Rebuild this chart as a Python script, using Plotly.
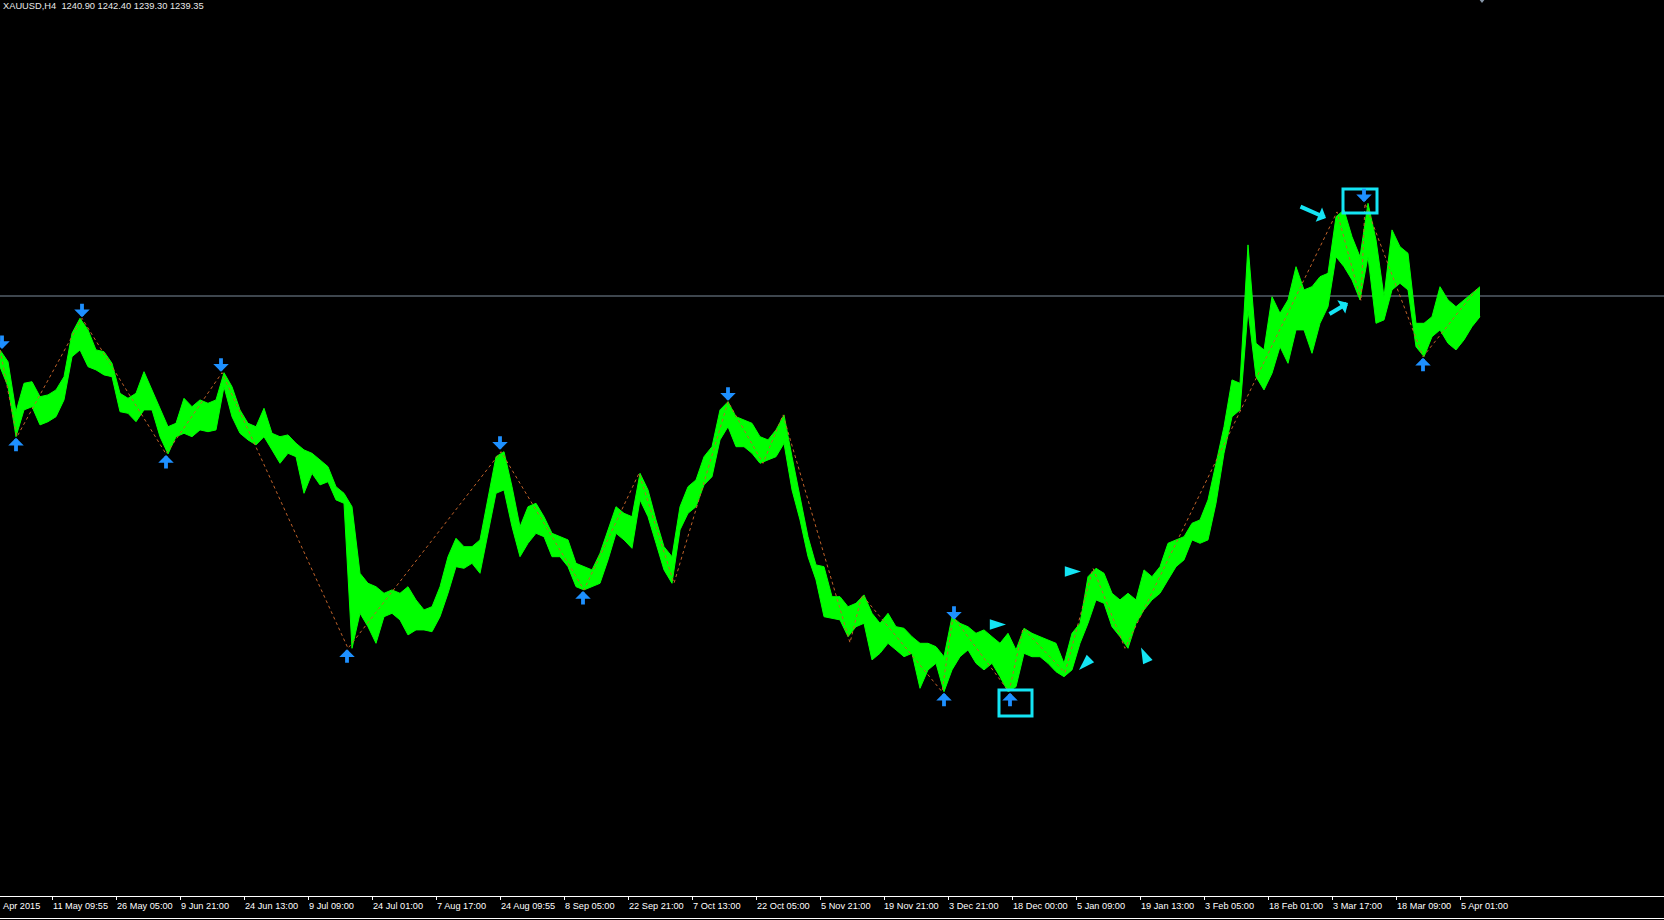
import plotly.graph_objects as go

# ---------------- data ----------------
SYMBOL_HEADER = "XAUUSD,H4  1240.90 1242.40 1239.30 1239.35"
BID_PRICE = 1239.35
BARS_PER_SAMPLE = 8  # each sample summarises 8 H4 bars

high_prices = [
    1212.4, 1206.5, 1181.5, 1195.7, 1196.5, 1189.0, 1189.9, 1192.4, 1199.0, 1220.7,
    1228.2, 1222.4, 1212.4, 1211.5, 1205.7, 1190.7, 1188.2, 1190.7, 1201.5, 1192.4,
    1182.4, 1174.0, 1175.7, 1188.2, 1184.0, 1187.4, 1185.7, 1187.4, 1201.0, 1194.0,
    1182.4, 1175.7, 1174.0, 1183.2, 1170.7, 1169.0, 1169.9, 1165.7, 1162.4, 1160.7,
    1157.4, 1154.0, 1144.0, 1140.7, 1134.0, 1100.7, 1095.7, 1094.0, 1090.7, 1092.4,
    1090.7, 1094.0, 1087.4, 1082.4, 1084.0, 1094.0, 1109.0, 1118.2, 1114.0, 1114.0,
    1117.4, 1137.4, 1159.0, 1161.5, 1144.0, 1124.0, 1134.0, 1135.7, 1129.0, 1120.7,
    1119.0, 1117.4, 1105.7, 1104.0, 1102.4, 1110.7, 1122.4, 1134.0, 1130.7, 1129.0,
    1150.7, 1142.4, 1127.4, 1114.0, 1109.0, 1134.0, 1144.0, 1147.4, 1159.0, 1164.0,
    1182.4, 1186.5, 1179.0, 1177.4, 1175.7, 1169.0, 1167.4, 1172.4, 1179.9, 1159.0,
    1139.0, 1119.0, 1104.9, 1104.0, 1089.0, 1089.0, 1084.0, 1085.7, 1089.9, 1080.7,
    1075.7, 1080.7, 1074.0, 1073.2, 1069.0, 1065.7, 1065.7, 1064.0, 1059.0, 1079.0,
    1075.7, 1074.0, 1070.7, 1072.4, 1069.0, 1065.7, 1070.7, 1062.4, 1073.2, 1070.7,
    1069.0, 1067.4, 1065.7, 1055.7, 1070.7, 1075.7, 1099.0, 1103.2, 1100.7, 1090.7,
    1087.4, 1090.7, 1087.4, 1102.4, 1099.0, 1104.0, 1115.7, 1117.4, 1119.0, 1125.7,
    1127.4, 1137.4, 1155.7, 1174.0, 1197.4, 1195.7, 1264.9, 1215.7, 1212.4, 1239.0,
    1230.7, 1237.4, 1254.0, 1242.4, 1244.0, 1249.0, 1250.7, 1279.0, 1282.4, 1269.0,
    1259.0, 1285.7, 1267.4, 1239.0, 1272.4, 1264.0, 1260.7, 1225.7, 1225.7, 1229.0,
    1244.0, 1237.4, 1234.0, 1237.4, 1240.7, 1244.0,
]
low_prices = [
    1204.0, 1194.0, 1169.0, 1182.4, 1184.0, 1174.9, 1176.5, 1179.0, 1187.4, 1209.0,
    1212.4, 1204.0, 1202.4, 1199.9, 1199.0, 1181.5, 1180.7, 1176.5, 1182.4, 1182.4,
    1169.0, 1160.4, 1169.0, 1170.7, 1169.0, 1172.4, 1171.5, 1172.4, 1194.0, 1179.0,
    1170.7, 1167.4, 1164.9, 1169.0, 1162.4, 1155.7, 1160.7, 1159.0, 1140.7, 1150.7,
    1144.9, 1146.5, 1137.4, 1135.7, 1063.2, 1080.7, 1074.0, 1065.7, 1079.0, 1080.7,
    1077.4, 1069.9, 1072.4, 1072.4, 1071.5, 1079.0, 1090.7, 1104.0, 1103.2, 1105.7,
    1100.7, 1120.7, 1140.7, 1142.4, 1124.0, 1109.0, 1115.7, 1120.7, 1119.0, 1109.0,
    1109.0, 1104.0, 1094.0, 1092.4, 1094.0, 1095.7, 1107.4, 1120.7, 1117.4, 1113.2,
    1137.4, 1129.0, 1115.7, 1102.4, 1095.7, 1122.4, 1130.7, 1134.0, 1144.9, 1149.0,
    1167.4, 1174.0, 1164.0, 1164.0, 1160.7, 1155.7, 1157.4, 1159.0, 1165.7, 1142.4,
    1127.4, 1109.0, 1097.4, 1079.0, 1078.2, 1077.4, 1069.0, 1074.0, 1075.7, 1057.4,
    1060.7, 1065.7, 1062.4, 1059.0, 1060.7, 1043.2, 1052.4, 1055.7, 1041.5, 1052.4,
    1059.0, 1062.4, 1055.7, 1052.4, 1055.7, 1049.0, 1041.5, 1044.0, 1060.7, 1059.0,
    1059.0, 1055.7, 1051.5, 1049.0, 1052.4, 1065.7, 1075.7, 1087.4, 1085.7, 1074.0,
    1069.0, 1063.2, 1075.7, 1082.4, 1087.4, 1090.7, 1097.4, 1104.0, 1107.4, 1117.4,
    1115.7, 1117.4, 1135.7, 1160.7, 1179.0, 1182.4, 1232.4, 1199.0, 1192.4, 1200.7,
    1214.0, 1205.7, 1222.4, 1222.4, 1210.7, 1225.7, 1234.0, 1259.0, 1254.0, 1247.4,
    1237.4, 1259.0, 1225.7, 1227.4, 1242.4, 1245.7, 1242.4, 1214.0, 1209.0, 1219.0,
    1222.4, 1215.7, 1212.4, 1217.4, 1224.0, 1229.0,
]

# ZigZag swing points (bar index, price)
zigzag_bars = [0, 17, 82, 166, 222, 348, 501, 584, 639, 674, 728, 763, 783, 850,
               862, 942, 953, 1009, 1023, 1065, 1093, 1125, 1337, 1361, 1365, 1423, 1477]
zigzag_prices = [1212.4, 1169.0, 1228.2, 1160.4, 1201.0, 1063.2, 1161.5, 1092.4, 1150.7,
                 1095.7, 1186.5, 1155.7, 1179.9, 1066.0, 1089.9, 1041.5, 1079.0, 1041.5,
                 1073.2, 1051.0, 1103.2, 1063.2, 1281.4, 1237.0, 1285.7, 1209.0, 1243.0]

# fractal-style arrows
up_arrow_bars = [16, 166, 347, 583, 944, 1010, 1423]
up_arrow_prices = [1169.0, 1160.4, 1063.2, 1092.4, 1041.5, 1041.5, 1209.0]
down_arrow_bars = [2, 82, 221, 500, 728, 954, 1364]
down_arrow_prices = [1212.4, 1228.2, 1201.0, 1162.0, 1186.5, 1077.0, 1285.7]

# cyan pattern markers (bar, price, direction in degrees clockwise from up)
signal_bars = [1006, 1081, 1079, 1141]
signal_prices = [1075.1, 1101.6, 1052.4, 1063.6]
signal_angles = [90, 90, 225, 335]

# cyan pointer arrows (head bar, head price)
pointer_bars = [1326, 1348]
pointer_prices = [1278.4, 1235.9]

# highlighted pivot boxes: bar from, bar to, price top, price bottom
box_bar_from = [999, 1343]
box_bar_to = [1032, 1377]
box_price_top = [1042.4, 1292.9]
box_price_bottom = [1029.4, 1280.9]

# time axis labels (the first one is partly scrolled off in the original: only "Apr 2015" shows)
time_labels = ["Apr 2015", "11 May 09:55", "26 May 05:00", "9 Jun 21:00", "24 Jun 13:00",
               "9 Jul 09:00", "24 Jul 01:00", "7 Aug 17:00", "24 Aug 09:55", "8 Sep 05:00",
               "22 Sep 21:00", "7 Oct 13:00", "22 Oct 05:00", "5 Nov 21:00", "19 Nov 21:00",
               "3 Dec 21:00", "18 Dec 00:00", "5 Jan 09:00", "19 Jan 13:00", "3 Feb 05:00",
               "18 Feb 01:00", "3 Mar 17:00", "18 Mar 09:00", "5 Apr 01:00"]
FIRST_LABEL_BAR = -11.5
FIRST_LABEL_VISIBLE_BAR = 2.5
BARS_PER_LABEL = 64
SHIFT_MARKER_BAR = 1482

# ---------------- styling ----------------
W, H = 1664, 920
BOTTOM = 24
GREEN = "#00ff00"
BLUE = "#1e90ff"
CYAN = "#14e4f4"
ZZ = "#c0622a"
FONT = "Liberation Sans, Arial, sans-serif"
Y_RANGE = [939.35, 1387.35]

bars = [i * BARS_PER_SAMPLE for i in range(len(high_prices))]
tick_bars = [FIRST_LABEL_BAR + BARS_PER_LABEL * i for i in range(len(time_labels))]
label_bars = [FIRST_LABEL_VISIBLE_BAR] + tick_bars[1:]

fig = go.Figure()

# price band (lows then highs filled)
fig.add_trace(go.Scatter(x=bars, y=low_prices, mode="lines",
                         line=dict(color=GREEN, width=1), hoverinfo="skip"))
fig.add_trace(go.Scatter(x=bars, y=high_prices, mode="lines", fill="tonexty",
                         fillcolor=GREEN, line=dict(color=GREEN, width=1), hoverinfo="skip"))

# zigzag
fig.add_trace(go.Scatter(x=zigzag_bars, y=zigzag_prices, mode="lines",
                         line=dict(color=ZZ, width=1, dash="dot"), hoverinfo="skip"))

# cyan signal markers
fig.add_trace(go.Scatter(x=signal_bars, y=signal_prices, mode="markers",
                         marker=dict(symbol="arrow", size=17, color=CYAN,
                                     angle=signal_angles, line=dict(width=0)),
                         hoverinfo="skip"))

# chart-shift marker at the top edge
fig.add_trace(go.Scatter(x=[SHIFT_MARKER_BAR], y=[Y_RANGE[1]], mode="markers", cliponaxis=False,
                         marker=dict(symbol="triangle-down", size=6, color="#8796a8"),
                         hoverinfo="skip"))

annotations = []
for b, p in zip(up_arrow_bars, up_arrow_prices):
    annotations.append(dict(x=b, y=p, xref="x", yref="y", text="", showarrow=True,
                            ax=0, ay=16, arrowhead=1, arrowsize=0.68, arrowwidth=3.8,
                            arrowcolor=BLUE, standoff=1))
for b, p in zip(down_arrow_bars, down_arrow_prices):
    annotations.append(dict(x=b, y=p, xref="x", yref="y", text="", showarrow=True,
                            ax=0, ay=-16, arrowhead=1, arrowsize=0.68, arrowwidth=3.8,
                            arrowcolor=BLUE, standoff=1))
pointer_offsets = [(-27, -12), (-20, 12)]
for (b, p), (ox, oy) in zip(zip(pointer_bars, pointer_prices), pointer_offsets):
    annotations.append(dict(x=b, y=p, xref="x", yref="y", text="", showarrow=True,
                            ax=ox, ay=oy, arrowhead=1, arrowsize=0.65, arrowwidth=4,
                            arrowcolor=CYAN, standoff=0))

# header
annotations.append(dict(x=0, y=1, xref="paper", yref="paper", xanchor="left", yanchor="top",
                        xshift=1, yshift=1, text=SYMBOL_HEADER, showarrow=False,
                        font=dict(family=FONT, size=9.3, color="#e8e8e8")))
# time labels
for lb, lab in zip(label_bars, time_labels):
    annotations.append(dict(x=lb / W, y=0, xref="paper", yref="paper", xanchor="left",
                            yanchor="middle", xshift=-2, yshift=-9.5, text=lab, showarrow=False,
                            font=dict(family=FONT, size=9.2, color="#ffffff")))

shapes = []
# bid line
shapes.append(dict(type="line", xref="paper", yref="y", x0=0, x1=1, y0=BID_PRICE, y1=BID_PRICE,
                   line=dict(color="#7d8c9c", width=1), layer="below"))
for x0, x1, yt, yb in zip(box_bar_from, box_bar_to, box_price_top, box_price_bottom):
    shapes.append(dict(type="rect", xref="x", yref="y", x0=x0, x1=x1, y0=yb, y1=yt,
                       line=dict(color=CYAN, width=3), fillcolor="rgba(0,0,0,0)", layer="above"))
# bottom frame line
plot_h = H - BOTTOM
shapes.append(dict(type="line", xref="paper", yref="paper", x0=0, x1=1,
                   y0=-22.5 / plot_h, y1=-22.5 / plot_h, line=dict(color="#ffffff", width=1)))

fig.update_layout(
    width=W, height=H,
    margin=dict(l=0, r=0, t=0, b=BOTTOM, pad=0),
    paper_bgcolor="#000000", plot_bgcolor="#000000",
    showlegend=False, hovermode=False,
    annotations=annotations, shapes=shapes,
    xaxis=dict(range=[0, W], showgrid=False, zeroline=False, showline=True,
               linecolor="#ffffff", linewidth=1, ticks="outside", ticklen=3,
               tickcolor="#ffffff", tickwidth=1, tickvals=tick_bars,
               showticklabels=False, fixedrange=True),
    yaxis=dict(range=Y_RANGE, visible=False, showgrid=False,
               zeroline=False, fixedrange=True),
)

fig.write_html("out.html", config={"displayModeBar": False},
               post_script="document.body.style.margin='0';document.body.style.overflow='hidden';")
